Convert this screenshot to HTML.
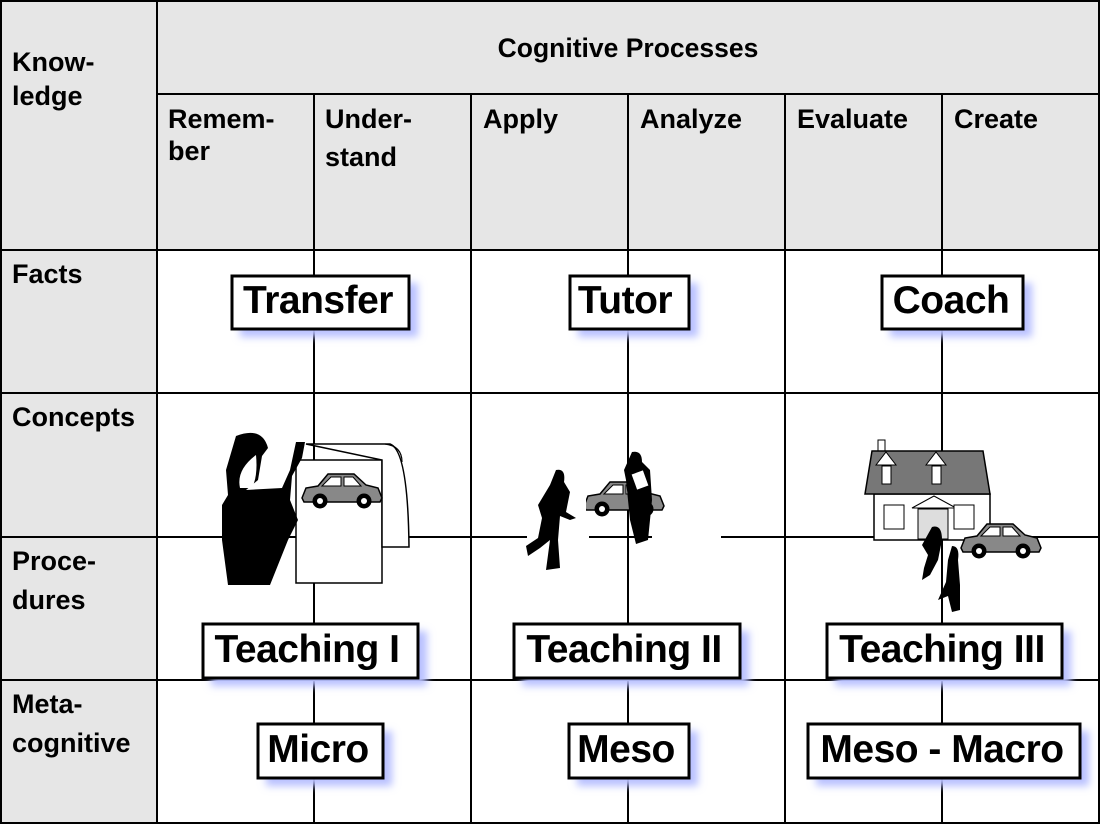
<!DOCTYPE html>
<html><head><meta charset="utf-8"><style>
html,body{margin:0;padding:0;background:#fff;width:1100px;height:825px;overflow:hidden}
svg{display:block}
text{font-family:"Liberation Sans",Arial,sans-serif;font-weight:bold;fill:#000}
</style></head><body>
<svg width="1100" height="825" viewBox="0 0 1100 825" xmlns="http://www.w3.org/2000/svg">
<defs>
<filter id="sh" x="-20%" y="-30%" width="150%" height="180%"><feGaussianBlur stdDeviation="4"/></filter>
<g id="car">
<path d="M0,28 L4,18 L16,16 L26,4 L52,4 L64,15 L76,18 L80,28 L78,32 L2,32 Z" fill="#888" stroke="#000" stroke-width="1.5"/>
<path d="M20,16 L29,7 L39,7 L39,16 Z M42,7 L51,7 L59,16 L42,16 Z" fill="#fff" stroke="#000" stroke-width="1"/>
<circle cx="18" cy="31" r="7.5" fill="#000"/><circle cx="18" cy="31" r="3" fill="#fff"/>
<circle cx="62" cy="31" r="7.5" fill="#000"/><circle cx="62" cy="31" r="3" fill="#fff"/>
</g>
</defs>
<rect x="1" y="1" width="1098" height="249" fill="#e6e6e6"/>
<rect x="1" y="250" width="156" height="573" fill="#e6e6e6"/>
<g stroke="#000" stroke-width="2" fill="none">
<rect x="1" y="1" width="1098" height="822"/>
<line x1="157" y1="1" x2="157" y2="823"/>
<line x1="157" y1="94" x2="1099" y2="94"/>
<line x1="314" y1="94" x2="314" y2="823"/>
<line x1="471" y1="94" x2="471" y2="823"/>
<line x1="628" y1="94" x2="628" y2="823"/>
<line x1="785" y1="94" x2="785" y2="823"/>
<line x1="942" y1="94" x2="942" y2="823"/>
<line x1="1" y1="250" x2="1099" y2="250"/>
<line x1="1" y1="393" x2="1099" y2="393"/>
<line x1="1" y1="537" x2="527" y2="537"/>
<line x1="589" y1="537" x2="652" y2="537"/>
<line x1="721" y1="537" x2="1099" y2="537"/>
<line x1="1" y1="680" x2="1099" y2="680"/>
</g>
<text x="628" y="57" font-size="26.5" text-anchor="middle">Cognitive Processes</text>
<g font-size="27">
<text x="12" y="71">Know-</text><text x="12" y="105">ledge</text>
<text x="168" y="128">Remem-</text><text x="168" y="160">ber</text>
<text x="325" y="128">Under-</text><text x="325" y="166">stand</text>
<text x="483" y="128">Apply</text>
<text x="640" y="128">Analyze</text>
<text x="797" y="128">Evaluate</text>
<text x="954" y="128">Create</text>
<text x="12" y="283">Facts</text>
<text x="12" y="426">Concepts</text>
<text x="12" y="570">Proce-</text><text x="12" y="609">dures</text>
<text x="12" y="713">Meta-</text><text x="12" y="752">cognitive</text>
</g>
<g>
<rect x="296" y="460" width="86" height="123" fill="#fff" stroke="#000" stroke-width="1.5"/>
<path d="M306,444 L390,444 Q408,450 409,547 L382,547 L382,460 Z" fill="#fff" stroke="#000" stroke-width="1.5"/>
<path d="M385,444 Q402,446 402,462" fill="none" stroke="#000" stroke-width="1.2"/>
<use href="#car" x="302" y="470"/>
<path d="M236,436 Q262,426 268,448 L262,456 L258,480 L246,490 L282,488 L290,470 L296,442 L305,442 L302,458 L292,476 L290,500 L298,520 L288,540 L270,585 L228,585 L222,540 L222,505 L228,495 L226,470 Z" fill="#000"/>
<path d="M256,455 Q258,476 252,488 L240,488 Q236,470 256,455 Z" fill="#fff"/>
</g>
<g>
<use href="#car" x="584" y="478"/>
<rect x="570" y="470" width="16" height="60" fill="#fff"/>
<path d="M556,470 Q566,468 564,482 L570,492 L566,512 L576,518 L570,520 L560,516 L558,540 L560,568 L546,570 L550,540 L540,548 L528,556 L526,546 L538,538 L542,518 L538,505 L550,485 Z" fill="#000"/>
<path d="M632,452 Q642,450 642,462 L650,470 L652,500 L650,520 L648,540 L636,544 L630,520 L626,480 L624,470 Z" fill="#000"/>
<rect x="634" y="472" width="12" height="16" fill="#fff" transform="rotate(-20 640 480)"/>
</g>
<g>
<rect x="874" y="494" width="116" height="46" fill="#fff" stroke="#000" stroke-width="1.5"/>
<rect x="878" y="440" width="7" height="12" fill="#fff" stroke="#000"/>
<path d="M872,451 L983,451 L990,494 L865,494 Z" fill="#777" stroke="#000" stroke-width="1.5"/>
<path d="M876,465 L886,452 L896,465 Z M926,465 L936,452 L946,465 Z" fill="#fff" stroke="#000"/>
<rect x="882" y="466" width="9" height="18" fill="#fff" stroke="#000"/>
<rect x="932" y="466" width="9" height="18" fill="#fff" stroke="#000"/>
<path d="M912,508 L934,496 L956,508 Z" fill="#fff" stroke="#000"/>
<rect x="918" y="509" width="30" height="30" fill="#ddd" stroke="#000"/>
<rect x="884" y="505" width="20" height="24" fill="#fff" stroke="#000"/>
<rect x="954" y="505" width="20" height="24" fill="#fff" stroke="#000"/>
<use href="#car" x="961" y="520"/>
<path d="M932,527 Q942,524 942,540 L938,560 L930,575 L922,580 L924,568 L928,555 L922,545 Z" fill="#000"/>
<path d="M952,546 Q960,546 958,560 L960,585 L960,610 L952,612 L948,596 L938,600 L946,582 L948,560 Z" fill="#000"/>
</g>
<g>
<g fill="#b8c0ff" filter="url(#sh)">
<rect x="240" y="283" width="178" height="54"/><rect x="578" y="283" width="120" height="54"/><rect x="890" y="283" width="142" height="54"/>
<rect x="211" y="631" width="216" height="55"/><rect x="522" y="631" width="227" height="55"/><rect x="835" y="631" width="236" height="55"/>
<rect x="266" y="731" width="126" height="55"/><rect x="577" y="731" width="121" height="55"/><rect x="816" y="731" width="273" height="55"/>
</g>
<g fill="#fff" stroke="#000" stroke-width="3">
<rect x="232" y="276" width="177" height="53"/><rect x="570" y="276" width="119" height="53"/><rect x="882" y="276" width="141" height="53"/>
<rect x="203" y="624" width="215" height="54"/><rect x="514" y="624" width="226" height="54"/><rect x="827" y="624" width="235" height="54"/>
<rect x="258" y="724" width="125" height="54"/><rect x="569" y="724" width="120" height="54"/><rect x="808" y="724" width="272" height="54"/>
</g>
<g font-size="39" text-anchor="middle" letter-spacing="-0.5">
<text x="318" y="313">Transfer</text><text x="625" y="313">Tutor</text><text x="951" y="313">Coach</text>
<text x="307" y="662">Teaching I</text><text x="624" y="662">Teaching II</text><text x="942" y="662">Teaching III</text>
<text x="318" y="762">Micro</text><text x="626" y="762">Meso</text><text x="942" y="762">Meso - Macro</text>
</g>
</g>
</svg>
</body></html>
